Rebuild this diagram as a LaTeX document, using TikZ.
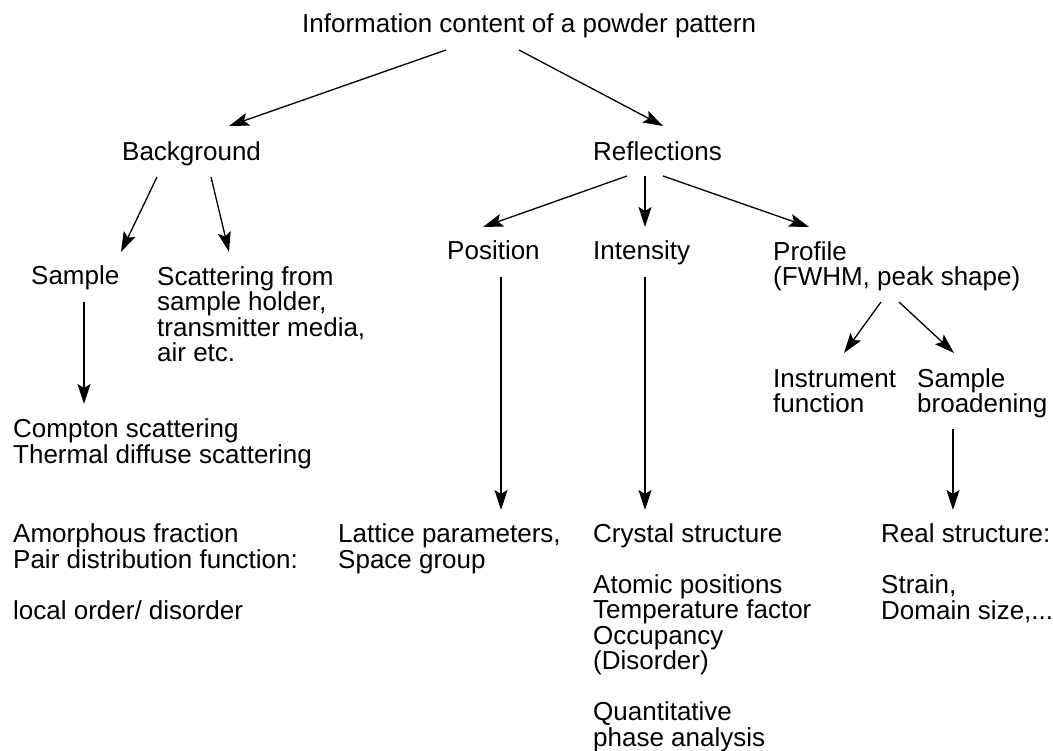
\documentclass[tikz,border=0pt]{standalone}
\usepackage{fontspec}
\setmainfont{Liberation Sans}
\usetikzlibrary{
    arrows.meta,
    calc
}
\tikzstyle{entry} = [
    anchor=base west,
    inner sep=0pt,
    align=left,
    font=\fontsize{26}{25.5}\selectfont
]
\tikzstyle{arrow} = [
    -{Stealth[length=20pt,width=13pt,inset=4pt]},
    line width=1.3pt
]
\begin{document}
\begin{tikzpicture}[x=1pt, y=-1pt]
        \useasboundingbox (0,0) rectangle (1053,751);

        % Top (nodes sit on the baseline of their last line)
        \node[entry] (title) at (302,33) {Information content of a powder pattern};
        \node[entry] (bg) at (122,161) {Background};
        \node[entry] (refl) at (593,161) {Reflections};

        % Background branch
        \node[entry] (sample) at (31,285) {Sample};
        \node[entry] (holder) at (157,362) {Scattering from\\sample holder,\\transmitter media,\\air etc.};
        \node[entry] (compton) at (13,463) {Compton scattering\\Thermal diffuse scattering};
        \node[entry] (amorph) at (13,619) {Amorphous fraction\\Pair distribution function:\\[25.5pt]local order/ disorder};

        % Reflections branch
        \node[entry] (pos) at (447,260) {Position};
        \node[entry] (inten) at (593,260) {Intensity};
        \node[entry] (prof) at (773,286) {Profile\\(FWHM, peak shape)};
        \node[entry] (instr) at (773,413) {Instrument\\function};
        \node[entry] (sbroad) at (917,413) {Sample\\broadening};
        \node[entry] (lattice) at (338,568) {Lattice parameters,\\Space group};
        \node[entry] (crystal) at (593,746) {Crystal structure\\[25.5pt]Atomic positions\\Temperature factor\\Occupancy\\(Disorder)\\[25.5pt]Quantitative\\phase analysis};
        \node[entry] (real) at (881,619) {Real structure:\\[25.5pt]Strain,\\Domain size,...};

        % Arrows
        \draw[arrow] ($(title.base west)+(144,17)$) -- ($(bg.base west)+(107,-35)$);
        \draw[arrow] ($(title.base west)+(217,17)$) -- ($(refl.base west)+(70,-35)$);
        \draw[arrow] ($(bg.base west)+(35,16)$) -- ($(sample.base west)+(90,-33)$);
        \draw[arrow] ($(bg.base west)+(89,16)$) -- ($(holder.base west)+(72,-110)$);
        \draw[arrow] ($(refl.base west)+(34,15)$) -- ($(pos.base west)+(36,-33)$);
        \draw[arrow] ($(refl.base west)+(52,15)$) -- ($(inten.base west)+(52,-33)$);
        \draw[arrow] ($(refl.base west)+(70,15)$) -- ($(prof.base west)+(36,-59)$);
        \draw[arrow] ($(sample.base west)+(53,17)$) -- ($(compton.base west)+(71,-59)$);
        \draw[arrow] ($(pos.base west)+(54,17)$) -- ($(lattice.base west)+(163,-58)$);
        \draw[arrow] ($(inten.base west)+(52,17)$) -- ($(crystal.base west)+(52,-236)$);
        \draw[arrow] ($(prof.base west)+(108,16)$) -- ($(instr.base west)+(71,-60)$);
        \draw[arrow] ($(prof.base west)+(126,16)$) -- ($(sbroad.base west)+(37,-60)$);
        \draw[arrow] ($(sbroad.base west)+(36,16)$) -- ($(real.base west)+(72,-109)$);
    \end{tikzpicture}
\end{document}
